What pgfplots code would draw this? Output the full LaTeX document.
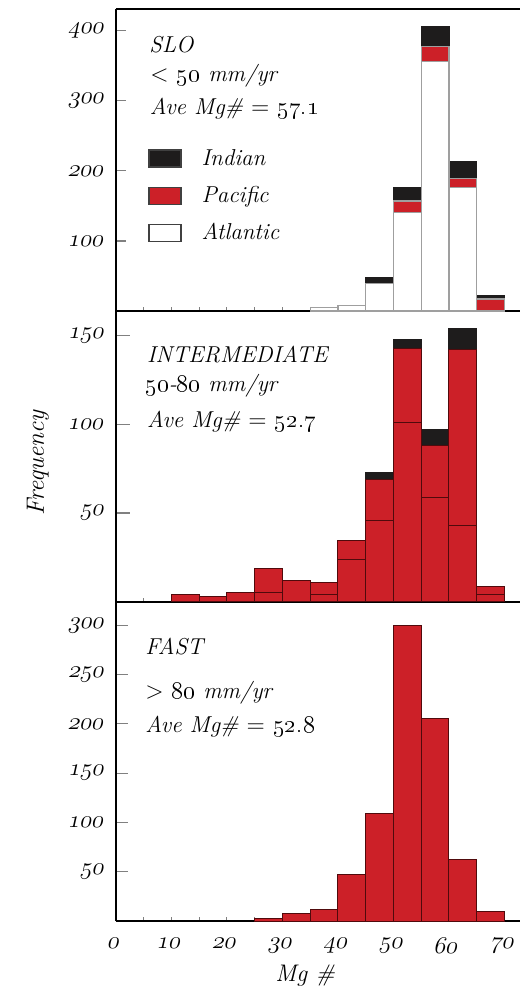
\documentclass[border=0pt]{standalone}
\usepackage{pgfplots}
\pgfplotsset{compat=1.18}
\definecolor{mred}{RGB}{204,32,40}
\definecolor{medge}{RGB}{80,10,12}
\definecolor{ind}{RGB}{30,28,28}
\newcommand{\os}[1]{\oldstylenums{#1}}
\newcommand{\tfont}{\fontsize{11.5}{14}\selectfont\itshape}
\begin{document}
\begin{tikzpicture}
\path[use as bounding box] (0pt,0pt) rectangle (260pt,495.5pt);
\pgfplotsset{
  panel/.style={
    scale only axis, width=202pt, xmin=0, xmax=72.8, ymin=0,
    anchor=south west,
    axis y line*=left, axis x line*=bottom,
    axis line style={-, line width=1.1pt},
    tick align=inside,
    xtick={0,10,...,70}, minor xtick={5,15,...,65},
    xtick style={line width=0.5pt, /pgfplots/major tick length=2pt, /pgfplots/minor tick length=2pt},
    ytick style={line width=0.6pt},
    yticklabel={$\mathnormal{\pgfmathprintnumber{\tick}}$},
    xticklabel={$\mathnormal{\pgfmathprintnumber{\tick}}$},
    tick label style={font=\fontsize{12}{14}\selectfont, xslant=0.22},
    yticklabel style={xshift=-2.5pt},
    xticklabel style={yshift=-5pt},
    ybar stacked, bar width=5, bar shift=0,
    clip=false,
  }
}
% ---------- bottom: FAST ----------
\begin{axis}[panel, at={(58pt,35pt)}, height=159.7pt, ymax=324,
  ytick={50,100,...,300}, ytick style={/pgfplots/major tick length=6pt}]
\addplot[fill=mred, draw=medge, line width=0.5pt] coordinates {
(27.5,3) (32.5,8) (37.5,12) (42.5,47) (47.5,109) (52.5,300) (57.5,205) (62.5,62) (67.5,9.5)};
\end{axis}
% ---------- middle: INTERMEDIATE ----------
\begin{axis}[panel, at={(58pt,194.65pt)}, height=145.35pt, ymax=164,
  ytick={50,100,150}, xticklabels={}, ytick style={/pgfplots/major tick length=7pt}]
\addplot[fill=mred, draw=medge, line width=0.5pt] coordinates {
(12.5,4) (17.5,3) (22.5,5) (27.5,5) (32.5,12) (37.5,4) (42.5,24) (47.5,46) (52.5,101) (57.5,59) (62.5,43) (67.5,4)};
\addplot[fill=mred, draw=medge, line width=0.5pt] coordinates {
(12.5,0) (17.5,0) (22.5,0) (27.5,14) (32.5,0) (37.5,7) (42.5,10.5) (47.5,23) (52.5,42) (57.5,29) (62.5,99) (67.5,4.5)};
\addplot[fill=ind, draw=ind, line width=0.5pt] coordinates {
(12.5,0) (17.5,0) (22.5,0) (27.5,0) (32.5,0) (37.5,0) (42.5,0) (47.5,4) (52.5,5) (57.5,9) (62.5,12) (67.5,0)};
\end{axis}
% ---------- top: SLO ----------
\begin{axis}[panel, at={(58pt,340pt)}, height=151pt, ymax=431,
  ytick={100,200,300,400}, xticklabels={}, ytick style={/pgfplots/major tick length=5pt},
  reverse legend,
  legend style={at={(0.078,0.55)}, anchor=north west, draw=none, fill=none,
    inner sep=0pt, font=\tfont, row sep=5pt,
    /tikz/every odd column/.style={column sep=8pt}},
  legend cell align=left,
  legend image code/.code={\draw[#1, draw=black!75, line width=0.8pt] (0pt,-4.25pt) rectangle (16pt,4.25pt);}]
\addplot[fill=white, draw=gray!75, line width=0.6pt] coordinates {
(37.5,5) (42.5,8) (47.5,39) (52.5,140) (57.5,356) (62.5,176) (67.5,0)};
\addlegendentry{Atlantic}
\addplot[fill=mred, draw=gray!75, line width=0.6pt] coordinates {
(37.5,0) (42.5,0) (47.5,0) (52.5,17) (57.5,22) (62.5,13) (67.5,17)};
\addlegendentry{Pacific}
\addplot[fill=ind, draw=ind, line width=0.6pt] coordinates {
(37.5,0) (42.5,0) (47.5,9) (52.5,19) (57.5,28) (62.5,24) (67.5,5)};
\addlegendentry{Indian}
\draw[line width=1.1pt] (rel axis cs:0,1) -- (rel axis cs:1,1);
\end{axis}
% ---------- texts ----------
\begin{scope}[every node/.style={anchor=base west, inner sep=0pt, font=\tfont}]
\node at (74.5pt,469pt) {SLO};
\node at (75pt,454.5pt) {$<$ \os{50} mm/yr};
\node at (74.7pt,438pt) {Ave Mg\# $=$ \os{57.1}};
\node at (73.3pt,314pt) {INTERMEDIATE};
\node at (72.5pt,299.5pt) {\os{50}-\os{80} mm/yr};
\node at (73.3pt,281.7pt) {Ave Mg\# $=$ \os{52.7}};
\node at (72.5pt,168pt) {FAST};
\node at (72.5pt,146pt) {$>$ \os{80} mm/yr};
\node at (72.5pt,129.2pt) {Ave Mg\# $=$ \os{52.8}};
\end{scope}
\node[font=\fontsize{12.5}{14}\selectfont\itshape, rotate=90, inner sep=0pt] at (19pt,264pt) {Frequency};
\node[font=\fontsize{12}{14}\selectfont\itshape, anchor=base, inner sep=0pt] at (152.5pt,4.6pt) {Mg \#};
\end{tikzpicture}
\end{document}
